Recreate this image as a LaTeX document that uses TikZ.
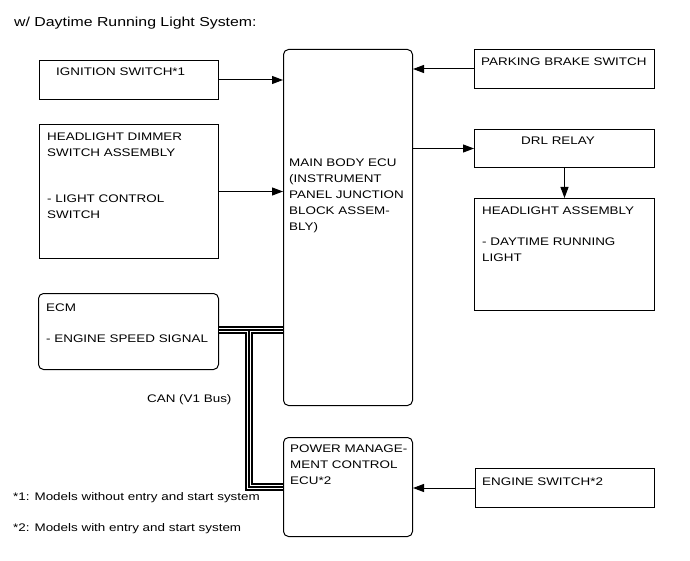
\documentclass[tikz,border=0pt]{standalone}
\usepackage{fontspec}
\setmainfont{Liberation Sans}[FakeStretch=1.22]
\usetikzlibrary{arrows.meta, positioning}

\tikzset{
  blk/.style={draw, line width=1pt, inner sep=0pt, anchor=north west},
  rblk/.style={blk, rounded corners=5pt},
  lbl/.style={inner sep=0pt, align=left, font=\fontsize{11}{16}\selectfont},
  sig/.style={line width=1pt, -{Triangle[length=11pt,width=8pt]}},
}

\begin{document}
\begin{tikzpicture}[x=1pt, y=-1pt]
        \useasboundingbox (0,0) rectangle (690,561);
        % boxes
        \node[blk, minimum width=179pt, minimum height=39pt] (ign) at (39,60) {};
        \node[blk, minimum width=179pt, minimum height=134pt] (dim) at (39,124) {};
        \node[rblk, minimum width=180pt, minimum height=76pt] (ecm) at (38,293) {};
        \node[rblk, minimum width=129pt, minimum height=356pt] (main) at (283,49) {};
        \node[rblk, minimum width=129pt, minimum height=99pt] (pm) at (283,437) {};
        \node[blk, minimum width=180pt, minimum height=39pt] (pbs) at (474,49) {};
        \node[blk, minimum width=180pt, minimum height=38pt] (drl) at (474,129) {};
        \node[blk, minimum width=180pt, minimum height=112pt] (head) at (474,198) {};
        \node[blk, minimum width=179pt, minimum height=39pt] (eng) at (475,468) {};

        % texts
        \node[lbl, font=\fontsize{13}{15}\selectfont, anchor=base west] (title) at (14,27) {w/ Daytime Running Light System:};
        \node[lbl, anchor=base west] (ign-t) at (56,76) {IGNITION SWITCH*1};
        \node[lbl, anchor=north west] (dim-t) at (47,133) {HEADLIGHT DIMMER\\SWITCH ASSEMBLY\\[30pt]- LIGHT CONTROL\\SWITCH};
        \node[lbl, anchor=north west] (ecm-t) at (46,304) {ECM\\[15pt]- ENGINE SPEED SIGNAL};
        \node[lbl, anchor=north west] (main-t) at (289,159) {MAIN BODY ECU\\(INSTRUMENT\\PANEL JUNCTION\\BLOCK ASSEM-\\BLY)};
        \node[lbl, anchor=north west] (pm-t) at (290,445) {POWER MANAGE-\\MENT CONTROL\\ECU*2};
        \node[lbl, anchor=base west] (pbs-t) at (481,66) {PARKING BRAKE SWITCH};
        \node[lbl, anchor=base west] (drl-t) at (521,145) {DRL RELAY};
        \node[lbl, anchor=north west] (head-t) at (482,207) {HEADLIGHT ASSEMBLY\\[15pt]- DAYTIME RUNNING\\LIGHT};
        \node[lbl, anchor=base west] (eng-t) at (482,485) {ENGINE SWITCH*2};
        \node[lbl, anchor=base west] (can) at (147,402) {CAN (V1 Bus)};
        \node[lbl, anchor=base west] (note1) at (13,500) {*1: Models without entry and start system};
        \node[lbl, anchor=base west] (note2) at (13,531) {*2: Models with entry and start system};

        % signals
        \draw[sig] (ign.east) -- (ign.east -| main.west);
        \draw[sig] (dim.east) -- (dim.east -| main.west);
        \draw[sig] (pbs.west) -- (pbs.west -| main.east);
        \draw[sig] (main.east |- drl.west) -- (drl.west);
        \draw[sig] (drl.south) -- (head.north);
        \draw[sig] (eng.west) -- (eng.west -| pm.east);

        % CAN bus, three lines
        \coordinate (jn) at (249,330);
        \foreach \w/\c in {7.6/black, 4.2/white, 1.5/black} {
            \draw[line width=\w pt, \c] (ecm.east |- jn) -- (jn -| main.west);
            \draw[line width=\w pt, \c] (jn) |- (pm.west);
        }
\end{tikzpicture}
\end{document}
